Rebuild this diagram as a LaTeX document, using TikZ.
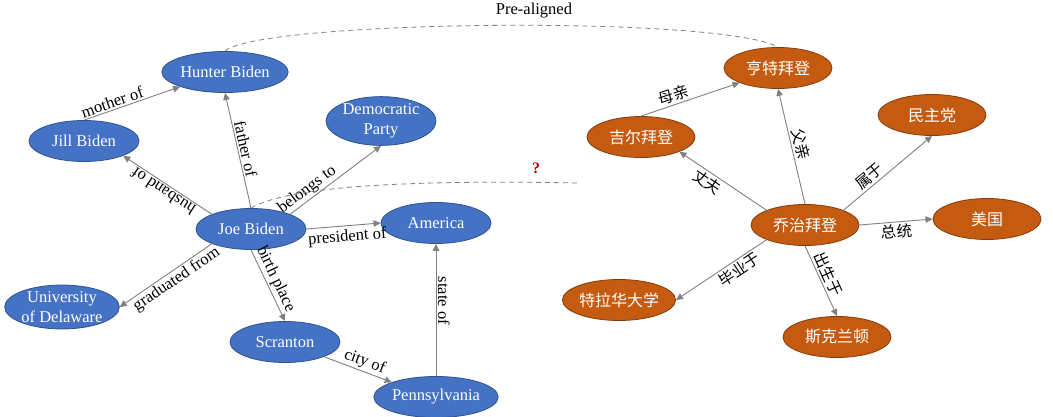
\documentclass[tikz,border=0pt]{standalone}
\usepackage{fontspec}
\setmainfont{Liberation Serif}
\newfontfamily\cjk{Noto Sans CJK SC}
\usetikzlibrary{shapes.geometric,arrows.meta}
\definecolor{bluefill}{HTML}{4472C4}
\definecolor{blueline}{HTML}{2F528F}
\definecolor{orfill}{HTML}{C55A11}
\definecolor{orline}{HTML}{843C0C}
\definecolor{edgegray}{HTML}{808080}
\definecolor{qred}{HTML}{C00000}
\begin{document}
\begin{tikzpicture}[x=1pt,y=-1pt,
  ent/.style={ellipse, minimum width=110pt, minimum height=41pt, inner sep=0pt,
    text=white, align=center, line width=0.8pt},
  en/.style={ent, fill=bluefill, draw=blueline, font=\fontsize{16.5}{20}\selectfont},
  zh/.style={ent, fill=orfill, draw=orline, minimum width=108pt, font=\cjk\fontsize{16}{20}\selectfont},
  edge/.style={draw=edgegray, line width=0.9pt, -{Triangle[width=6.5pt,length=7pt]}},
  lbl/.style={font=\fontsize{16.5}{18}\selectfont, inner sep=1.5pt, text=black},
  zlbl/.style={font=\cjk\fontsize{15.5}{18}\selectfont, inner sep=2pt, text=black},
  dsh/.style={draw=edgegray, line width=0.8pt, dash pattern=on 5pt off 4pt}
]
\useasboundingbox (0,0) rectangle (1053,417);

% English graph
\node[en] (hunter) at (225,72) {Hunter Biden};
\node[en] (jill) at (84,141) {Jill Biden};
\node[en] (dem) at (381,121) {Democratic\\Party};
\node[en] (joe) at (251,229) {Joe Biden};
\node[en] (america) at (436,223) {America};
\node[en] (ud) at (62,307) {University\\of Delaware};
\node[en] (scranton) at (285,342) {Scranton};
\node[en] (penn) at (436,397) {Pennsylvania};

\draw[edge] (jill.north) -- node[lbl, pos=0.32, sloped, above] {mother of} (hunter.south west);
\draw[edge] (joe.north) -- node[lbl, pos=0.5, sloped, above] {father of} (hunter.south);
\draw[edge] (joe.north west) -- node[lbl, pos=0.5, sloped, allow upside down, above] {husband of} (jill.south east);
\draw[edge] (joe.north east) -- node[lbl, pos=0.25, sloped, above] {belongs to} (dem.south);
\draw[edge] (joe.east) -- node[lbl, pos=0.54, sloped, below, yshift=-2pt] {president of} (america.west);
\draw[edge] (joe.south west) -- node[lbl, pos=0.44, sloped, below] {graduated from} (ud.east);
\draw[edge] (joe.south) -- node[lbl, pos=0.47, sloped, above] {birth place} (scranton.north);
\draw[edge] (scranton.south east) -- node[lbl, pos=0.55, sloped, above] {city of} (penn.north west);
\draw[edge] (penn.north) -- node[lbl, pos=0.57, rotate=-90, anchor=south] {state of} (america.south);

% Chinese graph
\node[zh] (hengte) at (778,68) {亨特拜登};
\node[zh] (jier) at (641,137) {吉尔拜登};
\node[zh] (minzhu) at (932,115) {民主党};
\node[zh] (qiaozhi) at (805,225) {乔治拜登};
\node[zh] (meiguo) at (987,219) {美国};
\node[zh] (telahua) at (619,300) {特拉华大学};
\node[zh] (sikelan) at (837,337) {斯克兰顿};

\draw[edge] (jier.north) -- node[zlbl, pos=0.36, sloped, above] {母亲} (hengte.south west);
\draw[edge] (qiaozhi.north) -- node[zlbl, pos=0.5, sloped, above] {父亲} (hengte.south);
\draw[edge] (qiaozhi.north west) -- node[zlbl, pos=0.62, sloped, below] {丈夫} (jier.south east);
\draw[edge] (qiaozhi.north east) -- node[zlbl, pos=0.36, sloped, above] {属于} (minzhu.south);
\draw[edge] (qiaozhi.east) -- node[zlbl, pos=0.5, sloped, below] {总统} (meiguo.west);
\draw[edge] (qiaozhi.south west) -- node[zlbl, pos=0.36, sloped, below] {毕业于} (telahua.east);
\draw[edge] (qiaozhi.south) -- node[zlbl, pos=0.46, sloped, above] {出生于} (sikelan.north);

% alignment curves
\node[lbl] (pre) at (534,11) {Pre-aligned};
\draw[dsh] (hunter.north) .. controls (260,20) and (720,15) .. (hengte.north);
\coordinate (qend) at (578,183);
\draw[dsh] (joe.north) .. controls (290,185) and (420,180) .. (qend);
\node[text=qred, font=\bfseries\fontsize{16}{18}\selectfont, inner sep=0pt] (q) at (536,168) {?};
\end{tikzpicture}
\end{document}
